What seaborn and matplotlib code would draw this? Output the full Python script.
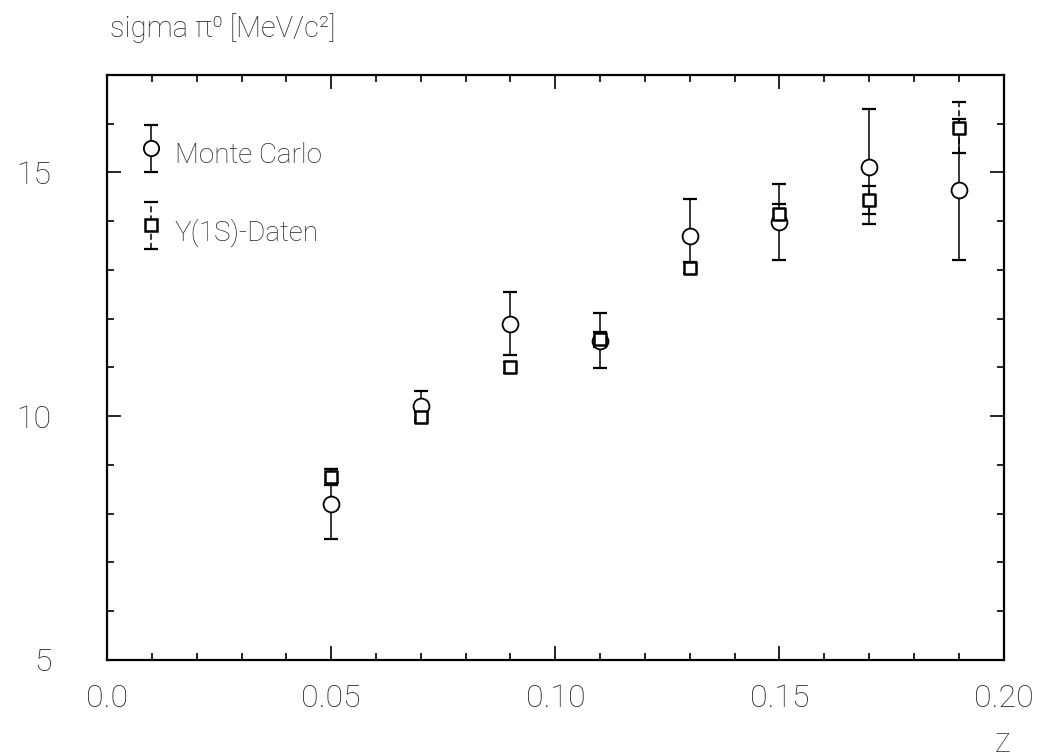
import matplotlib
matplotlib.use("Agg")
import matplotlib.pyplot as plt
from matplotlib.lines import Line2D
from matplotlib.container import ErrorbarContainer
from matplotlib.legend_handler import HandlerErrorbar, HandlerTuple
from matplotlib.ticker import MultipleLocator
import seaborn as sns
import pandas as pd

# z bins
z = [0.05, 0.07, 0.09, 0.11, 0.13, 0.15, 0.17, 0.19]

# pi0 mass resolution, Monte Carlo
mc_sigma = [8.20, 10.22, 11.90, 11.55, 13.70, 13.98, 15.12, 14.65]
mc_err = [0.72, 0.30, 0.65, 0.57, 0.76, 0.78, 1.18, 1.45]

# pi0 mass resolution, Upsilon(1S) data
data_sigma = [8.75, 9.98, 11.00, 11.58, 13.05, 14.15, 14.43, 15.92]
data_err = [0.16, 0.10, 0.12, 0.15, 0.12, 0.20, 0.29, 0.53]

series_labels = ["Monte Carlo", "Y(1S)-Daten"]
x_ticks = [0.0, 0.05, 0.10, 0.15, 0.20]
x_ticklabels = ["0.0", "0.05", "0.10", "0.15", "0.20"]
y_ticks = [5, 10, 15]

sns.set_theme(style="ticks")
plt.rcParams["font.family"] = ["Roboto", "DejaVu Sans"]
plt.rcParams["font.weight"] = "light"

fig = plt.figure(figsize=(10.37, 7.56), dpi=100)
ax = fig.add_axes([0.1032, 0.127, 0.8646, 0.7738])

df = pd.DataFrame({
    "z": z * 2,
    "sigma": mc_sigma + data_sigma,
    "series": [series_labels[0]] * len(z) + [series_labels[1]] * len(z),
})

eb_mc = ax.errorbar(z, mc_sigma, yerr=mc_err, fmt="none", ecolor="black",
                    elinewidth=1.1, capsize=5, capthick=1.6, zorder=2)
eb_data = ax.errorbar(z, data_sigma, yerr=data_err, fmt="none", ecolor="black",
                      elinewidth=1.1, capsize=5, capthick=1.6, zorder=2)
eb_data[2][0].set_linestyle((0, (4, 2)))

sns.scatterplot(data=df[df.series == series_labels[0]], x="z", y="sigma",
                marker="o", s=130, facecolor="white", edgecolor="black",
                linewidth=1.3, ax=ax, legend=False, zorder=3)
sns.scatterplot(data=df[df.series == series_labels[1]], x="z", y="sigma",
                marker="s", s=75, facecolor="white", edgecolor="black",
                linewidth=1.8, ax=ax, legend=False, zorder=4)

ax.set_xlim(0.0, 0.2)
ax.set_ylim(5, 17)
ax.set_xticks(x_ticks)
ax.set_xticklabels(x_ticklabels)
ax.set_yticks(y_ticks)
ax.xaxis.set_minor_locator(MultipleLocator(0.01))
ax.yaxis.set_minor_locator(MultipleLocator(1))
ax.tick_params(which="both", direction="in", top=True, right=True,
               color="black", width=1.2)
ax.tick_params(which="major", length=10)
ax.tick_params(which="minor", length=5)
ax.tick_params(axis="x", which="major", labelsize=23, pad=17)
ax.tick_params(axis="y", which="major", labelsize=23, pad=40)
for s in ax.spines.values():
    s.set_linewidth(1.6)
    s.set_color("black")
ax.set_xlabel("")
ax.set_ylabel("")

mk_mc = Line2D([], [], marker="o", ls="none", ms=11, mfc="white", mec="black", mew=1.3)
mk_data = Line2D([], [], marker="s", ls="none", ms=8.5, mfc="white", mec="black", mew=1.8)
leg = ax.legend(
    [(eb_mc, mk_mc), (eb_data, mk_data)], series_labels,
    handler_map={tuple: HandlerTuple(ndivide=1, pad=0.0),
                 ErrorbarContainer: HandlerErrorbar(yerr_size=0.85)},
    loc="upper left", bbox_to_anchor=(0.0356, 0.90), frameon=False,
    fontsize=20, handlelength=0.85, handleheight=1.9, labelspacing=1.3,
    handletextpad=0.45, borderaxespad=0.0, borderpad=0.0,
)

fig.text(0.106, 1 - 28 / 756, "sigma π⁰ [MeV/c²]", fontsize=21,
         ha="left", va="center")
fig.text(1003 / 1037, 1 - 745 / 756, "Z", fontsize=19, ha="center", va="center")

fig.savefig("out.png", dpi=100, facecolor="white")
